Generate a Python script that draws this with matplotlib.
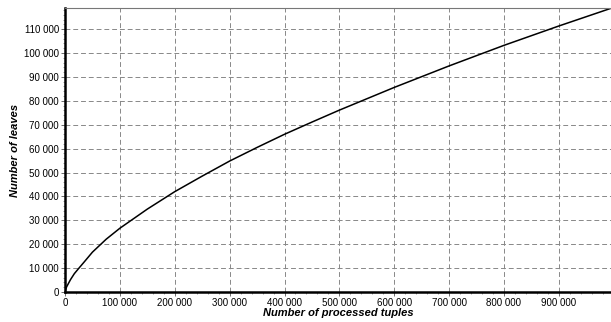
import matplotlib
matplotlib.use('Agg')
import matplotlib.pyplot as plt
from matplotlib.ticker import MultipleLocator, FuncFormatter

# data
tuples = [0, 1000, 3000, 6000, 10000, 17000, 25000, 35000, 50000, 75000,
          100000, 150000, 200000, 250000, 300000, 350000, 400000, 450000,
          500000, 600000, 700000, 800000, 900000, 995000]
leaves = [0, 1000, 2200, 3500, 5200, 7700, 9900, 12600, 16700, 22100,
          26700, 34700, 42000, 48500, 54800, 60500, 66000, 71100,
          76100, 85600, 94600, 103200, 111300, 118700]

plt.rcParams['font.family'] = ['Liberation Sans', 'DejaVu Sans']
plt.rcParams['font.size'] = 7

fig = plt.figure(figsize=(6.11, 3.22), dpi=100)
ax = fig.add_axes([0.1064, 0.093, 0.8936, 0.882])

ax.plot(tuples, leaves, color='black', lw=1.1)

ax.set_xlim(0, 995000)
ax.set_ylim(0, 118800)

fmt = FuncFormatter(lambda v, p: f'{int(v):,}'.replace(',', ' '))
ax.xaxis.set_major_locator(MultipleLocator(100000))
ax.yaxis.set_major_locator(MultipleLocator(10000))
ax.xaxis.set_minor_locator(MultipleLocator(20000))
ax.yaxis.set_minor_locator(MultipleLocator(2000))
ax.xaxis.set_major_formatter(fmt)
ax.yaxis.set_major_formatter(fmt)
ax.tick_params(which='major', length=3, width=0.6, color='#555555', pad=1.5)
ax.tick_params(which='minor', length=1.5, width=0.5, color='#777777')

ax.grid(True, which='major', color='#888888', ls=(0, (5, 3)), lw=0.7)

ax.spines['left'].set_linewidth(1.8)
ax.spines['bottom'].set_linewidth(1.8)
ax.spines['top'].set_color('#777777')
ax.spines['top'].set_linewidth(0.8)
ax.spines['right'].set_visible(False)

ax.set_xlabel('Number of processed tuples', fontweight='bold', style='italic',
              fontsize=8, labelpad=0)
ax.set_ylabel('Number of leaves', fontweight='bold', style='italic',
              fontsize=8, labelpad=3)

fig.savefig('out.png', dpi=100)
